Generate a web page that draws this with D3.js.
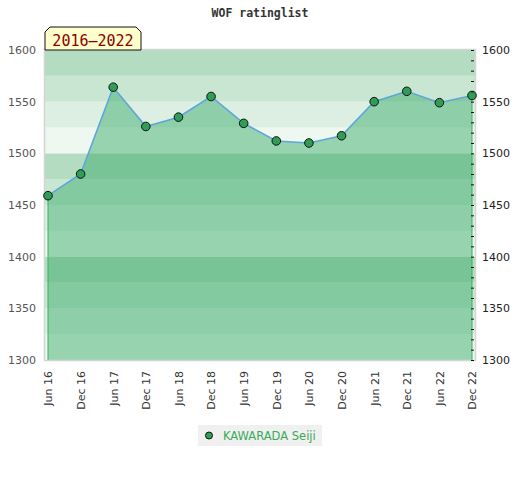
<!DOCTYPE html>
<html>
<head>
<meta charset="utf-8">
<script src="https://cdn.jsdelivr.net/npm/d3@7"></script>
<style>
  body { margin: 0; background: #fff; }
  svg { display: block; }
</style>
</head>
<body>
<div id="chart"></div>
<script>
// dữ liệu
const periods = ["Jun 16", "Dec 16", "Jun 17", "Dec 17", "Jun 18", "Dec 18", "Jun 19",
  "Dec 19", "Jun 20", "Dec 20", "Jun 21", "Dec 21", "Jun 22", "Dec 22"];
const ratings = [1459, 1480, 1564, 1526, 1535, 1555, 1529, 1512, 1510, 1517, 1550, 1560, 1549, 1556];
const yTicks = [1300, 1350, 1400, 1450, 1500, 1550, 1600];
const playerName = "KAWARADA Seiji";
const rangeLabel = "2016\u20132022";
const chartTitle = "WOF ratinglist";

const W = 520, H = 480;
const plot = { left: 45, right: 475, top: 50, bottom: 360 };

const svg = d3.select("#chart").append("svg")
  .attr("width", W)
  .attr("height", H);

const x = d3.scalePoint()
  .domain(periods)
  .range([plot.left + 3, plot.right - 3]);

const y = d3.scaleLinear()
  .domain([1300, 1600])
  .range([plot.bottom, plot.top]);

// tiêu đề
svg.append("text")
  .attr("x", W / 2)
  .attr("y", 17)
  .attr("text-anchor", "middle")
  .style("font-family", "DejaVu Sans Mono")
  .style("font-weight", "bold")
  .style("font-size", "11.5px")
  .style("fill", "#333")
  .text(chartTitle);

// dải nền 25 điểm, đậm dần lên trong mỗi nhóm 100
const bandShades = ["#eef7f0", "#dcefe2", "#c8e6d2", "#b3dcc0"];
const bands = d3.range(1300, 1600, 25);
svg.append("g").selectAll("rect")
  .data(bands)
  .enter()
  .append("rect")
  .attr("x", plot.left)
  .attr("width", plot.right - plot.left)
  .attr("y", d => y(d + 25))
  .attr("height", d => y(d) - y(d + 25))
  .attr("fill", d => bandShades[((d - 1300) / 25) % 4]);

// vùng dưới đường
const area = d3.area()
  .x(d => x(d.p))
  .y0(y(1300))
  .y1(d => y(d.v));

const line = d3.line()
  .x(d => x(d.p))
  .y(d => y(d.v));

const series = periods.map((p, i) => ({ p, v: ratings[i] }));

svg.append("path")
  .datum(series)
  .attr("fill", "rgba(55,170,105,0.47)")
  .attr("d", area);

// cạnh hai bên của vùng
const edges = [series[0], series[series.length - 1]];
svg.append("g").selectAll("line")
  .data(edges)
  .enter()
  .append("line")
  .attr("x1", d => x(d.p))
  .attr("x2", d => x(d.p))
  .attr("y1", d => y(d.v))
  .attr("y2", y(1300))
  .attr("stroke", "#33b55a")
  .attr("stroke-width", 1);

// khung
svg.append("rect")
  .attr("x", plot.left - 0.5)
  .attr("y", plot.top - 0.5)
  .attr("width", plot.right - plot.left + 1)
  .attr("height", plot.bottom - plot.top + 1)
  .attr("fill", "none")
  .attr("stroke", "#d4d4d4")
  .attr("stroke-width", 1.5);

svg.append("path")
  .datum(series)
  .attr("fill", "none")
  .attr("stroke", "#5ea6da")
  .attr("stroke-width", 1.6)
  .attr("d", line);

svg.append("g").selectAll("circle")
  .data(series)
  .enter()
  .append("circle")
  .attr("cx", d => x(d.p))
  .attr("cy", d => y(d.v))
  .attr("r", 4.3)
  .attr("fill", "#2e9e57")
  .attr("stroke", "#111")
  .attr("stroke-width", 1);

// trục trái: chỉ nhãn
const leftAxis = svg.append("g")
  .attr("transform", `translate(${plot.left - 9}, 0)`)
  .call(d3.axisLeft(y).tickValues(yTicks).tickSize(0).tickPadding(0).tickFormat(d3.format("d")));
leftAxis.select(".domain").remove();
leftAxis.selectAll("text")
  .style("font-family", "DejaVu Sans")
  .style("font-size", "11px")
  .style("fill", "#555");

// trục phải: vạch nhỏ mỗi 10 điểm
const rightTicks = svg.append("g")
  .attr("transform", `translate(${plot.right - 1}, 0)`)
  .call(d3.axisLeft(y).tickValues(d3.range(1300, 1601, 10)).tickSize(3).tickFormat(""));
rightTicks.select(".domain").remove();
rightTicks.selectAll("line").attr("stroke", "#111");

const rightAxis = svg.append("g")
  .attr("transform", `translate(${plot.right + 7}, 0)`)
  .call(d3.axisRight(y).tickValues(yTicks).tickSize(0).tickPadding(0).tickFormat(d3.format("d")));
rightAxis.select(".domain").remove();
rightAxis.selectAll("text")
  .style("font-family", "DejaVu Sans")
  .style("font-size", "11px")
  .style("fill", "#222");

// trục dưới: nhãn xoay dọc
const bottomAxis = svg.append("g")
  .attr("transform", `translate(0, ${plot.bottom + 11})`)
  .call(d3.axisBottom(x).tickSize(0).tickPadding(0));
bottomAxis.select(".domain").remove();
bottomAxis.selectAll("text")
  .attr("transform", "rotate(-90)")
  .attr("text-anchor", "end")
  .attr("x", 0)
  .attr("y", 0)
  .attr("dy", "0.35em")
  .style("font-family", "DejaVu Sans")
  .style("font-size", "11px")
  .style("fill", "#333");

// nhãn khoảng năm
const bx0 = 45, bx1 = 141, by0 = 27, by1 = 50, cut = 5;
svg.append("path")
  .attr("d", `M${bx0},${by1} L${bx0},${by0 + cut} L${bx0 + cut},${by0} L${bx1 - cut},${by0} L${bx1},${by0 + cut} L${bx1},${by1} Z`)
  .attr("fill", "#ffffcc")
  .attr("stroke", "#111")
  .attr("stroke-width", 1);

svg.append("text")
  .attr("x", (bx0 + bx1) / 2)
  .attr("y", 45.5)
  .attr("text-anchor", "middle")
  .style("font-family", "DejaVu Sans Mono")
  .style("font-size", "15px")
  .style("fill", "#8b0000")
  .text(rangeLabel);

// chú thích
const legend = svg.append("g").attr("transform", "translate(198, 425)");
legend.append("rect")
  .attr("width", 124)
  .attr("height", 21)
  .attr("fill", "#f0f0f0");
legend.append("circle")
  .attr("cx", 11)
  .attr("cy", 10.5)
  .attr("r", 3.5)
  .attr("fill", "#2e9e57")
  .attr("stroke", "#111")
  .attr("stroke-width", 1);
legend.append("text")
  .attr("x", 25)
  .attr("y", 15)
  .style("font-family", "DejaVu Sans")
  .style("font-size", "11.5px")
  .style("fill", "#3aaa5a")
  .text(playerName);
</script>
</body>
</html>
